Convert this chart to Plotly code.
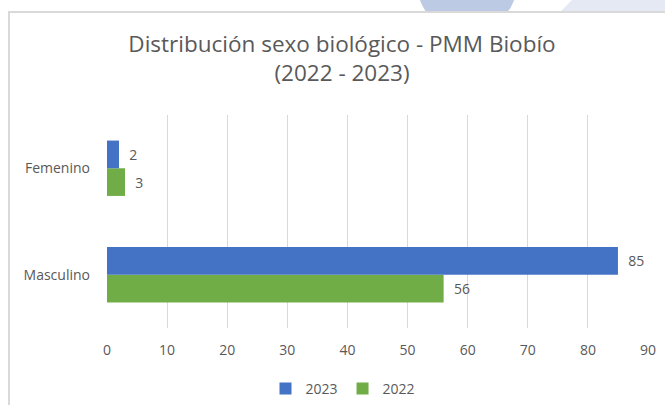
import plotly.graph_objects as go

categories = ["Masculino", "Femenino"]
values_2023 = [85, 2]
values_2022 = [56, 3]
tick_vals = [0, 10, 20, 30, 40, 50, 60, 70, 80, 90]

W, H = 665, 405
ML, MR, MT, MB = 107, 17, 115, 77
PW, PH = W - ML - MR, H - MT - MB

def px(x):
    return (x - ML) / PW

def py(y):
    return (H - MB - y) / PH

TXT = "#595959"
FONT = "Open Sans"

fig = go.Figure()
fig.add_trace(go.Bar(
    name="2022", y=categories, x=values_2022, orientation="h",
    marker=dict(color="#70ad47", line=dict(width=0)),
    text=values_2022, texttemplate="  %{x}", textposition="outside", cliponaxis=False,
    textfont=dict(color=TXT, size=14, family=FONT),
))
fig.add_trace(go.Bar(
    name="2023", y=categories, x=values_2023, orientation="h",
    marker=dict(color="#4472c4", line=dict(width=0)),
    text=values_2023, texttemplate="  %{x}", textposition="outside", cliponaxis=False,
    textfont=dict(color=TXT, size=14, family=FONT),
))

shapes = [
    # decorative background behind the chart card
    dict(type="circle", xref="paper", yref="paper", layer="below",
         x0=px(417), x1=px(517), y0=py(33), y1=py(-67),
         fillcolor="#bccbe3", line=dict(width=0)),
    dict(type="path", xref="paper", yref="paper", layer="below",
         path=f"M {px(560)} {py(12)} L {px(572)} {py(0)} L {px(665)} {py(0)} L {px(665)} {py(12)} Z",
         fillcolor="#e4e9f4", line=dict(width=0)),
    # white chart card
    dict(type="rect", xref="paper", yref="paper", layer="below",
         x0=px(9), x1=px(670), y0=py(410), y1=py(12),
         fillcolor="white", line=dict(width=0)),
    # chart frame
    dict(type="path", xref="paper", yref="paper", layer="below",
         path=f"M {px(9)} {py(410)} L {px(9)} {py(12)} L {px(670)} {py(12)}",
         line=dict(color="#d9d9d9", width=2)),
]

fig.update_layout(
    width=W, height=H,
    margin=dict(l=ML, r=MR, t=MT, b=MB, autoexpand=False),
    paper_bgcolor="white", plot_bgcolor="white",
    barmode="group", bargap=0.48, bargroupgap=0,
    font=dict(family=FONT, color=TXT, size=14),
    title=dict(
        text="Distribución sexo biológico - PMM Biobío<br>(2022 - 2023)",
        x=px(342), xref="paper", xanchor="center",
        y=1 - 52 / H, yanchor="top",
        font=dict(size=22.5, color=TXT, family=FONT),
    ),
    xaxis=dict(
        range=[0, 90], tickvals=tick_vals, showgrid=True, automargin=False,
        gridcolor="#d9d9d9", gridwidth=1, zeroline=False,
        showline=False, ticks="", ticklabelstandoff=12,
        tickfont=dict(size=14, color=TXT),
    ),
    yaxis=dict(
        showgrid=False, zeroline=False, showline=False, ticks="", automargin=False,
        ticklabelstandoff=16, tickfont=dict(size=14, color=TXT),
    ),
    legend=dict(
        orientation="h", x=px(343), xanchor="center", y=py(373), yanchor="top",
        traceorder="reversed", font=dict(size=14, color=TXT),
        itemwidth=30,
    ),
    shapes=shapes,
    showlegend=True,
)

fig.write_html(
    "out.html",
    config={"displayModeBar": False},
    post_script="document.body.style.margin='0';document.body.style.overflow='hidden';",
)
